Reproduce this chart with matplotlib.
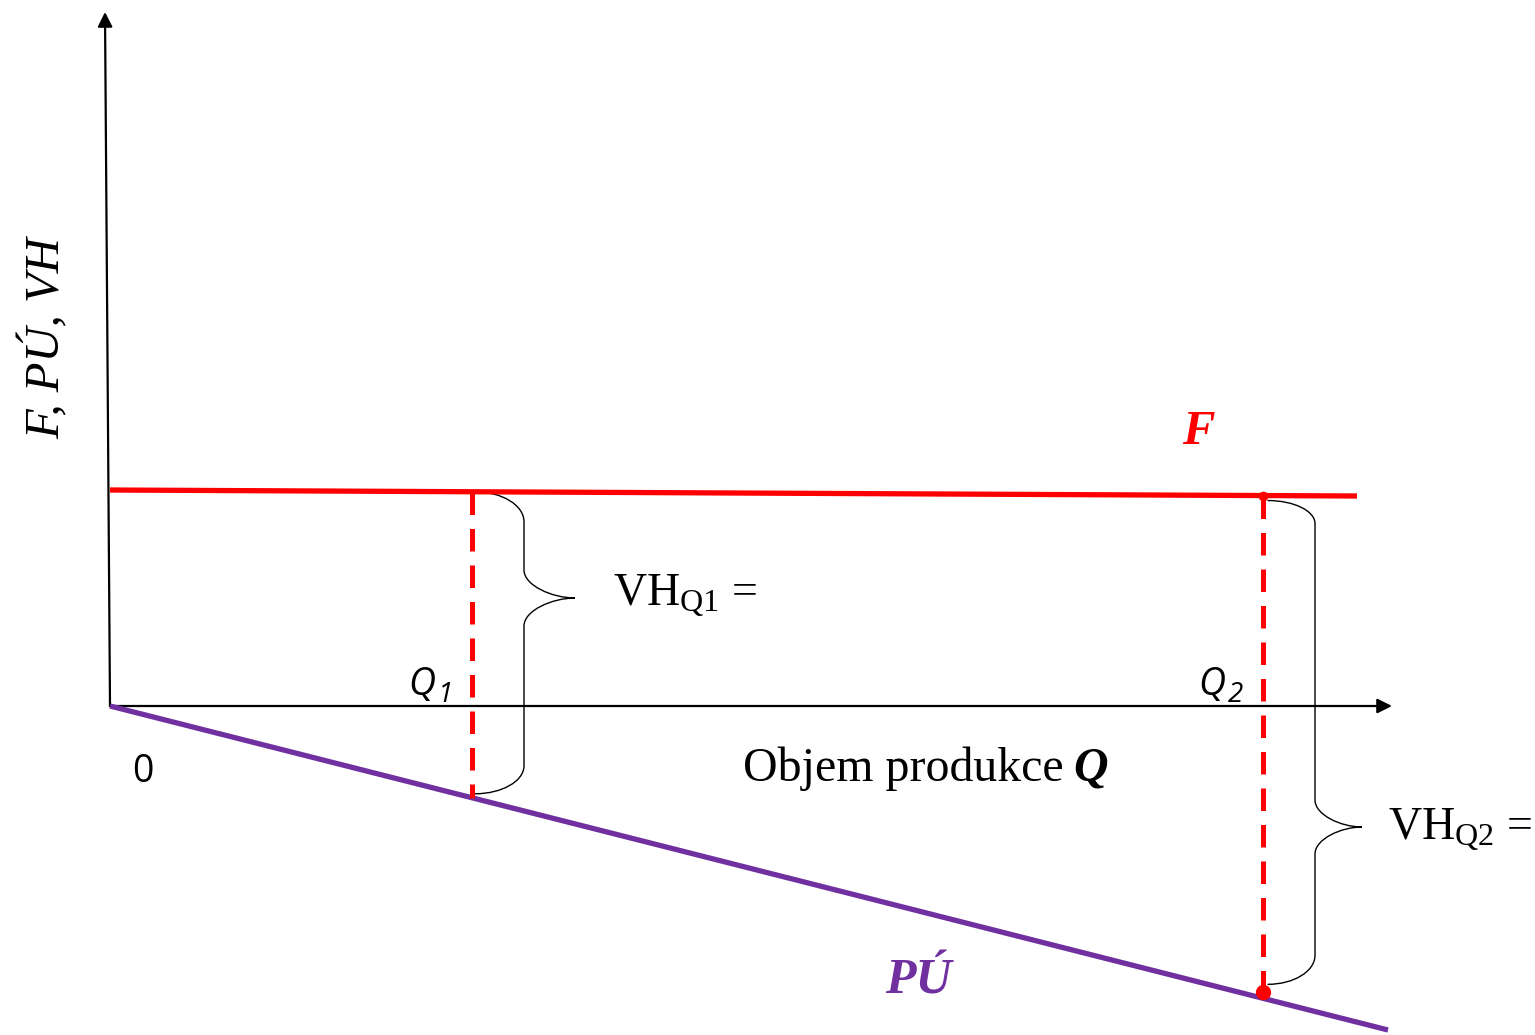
#!/usr/bin/env python
# -*- coding: utf-8 -*-

# Fixed costs F, loss PU and result VH against production volume Q

import numpy as np
import matplotlib as mpl
import matplotlib.pyplot as plt
from matplotlib.path import Path
from matplotlib.patches import PathPatch

# diagram data (1 unit ~ 100 px of the original picture)
f_q = [0.0, 12.47]
f_values = [2.16, 2.10]
pu_q = [0.0, 12.78]
pu_values = [0.0, -3.24]
q_marks = [3.62, 11.53]
q_subs = ['1', '2']
vh_subs = ['Q1', 'Q2']
x_axis_end = 12.82
y_axis_top = (-0.05, 6.94)

RED = '#FF0000'
PURPLE = '#7030A0'
SERIF = 'Liberation Serif'
SANS = 'Open Sans'


def f_at(q):
    return np.interp(q, f_q, f_values)


def pu_at(q):
    return np.interp(q, pu_q, pu_values)


def brace(ax, x0, yt, yb, xs, xt, ytip, rt, rm, rb):
    k = 0.55
    verts = [
        (x0, yt),
        (x0 + k * (xs - x0), yt), (xs, yt - (1 - k) * rt), (xs, yt - rt),
        (xs, ytip + rm),
        (xs, ytip + (1 - k) * rm), (xs + k * (xt - xs), ytip), (xt, ytip),
        (xs + k * (xt - xs), ytip), (xs, ytip - (1 - k) * rm), (xs, ytip - rm),
        (xs, yb + rb),
        (xs, yb + (1 - k) * rb), (x0 + k * (xs - x0), yb), (x0, yb),
    ]
    codes = [Path.MOVETO,
             Path.CURVE4, Path.CURVE4, Path.CURVE4,
             Path.LINETO,
             Path.CURVE4, Path.CURVE4, Path.CURVE4,
             Path.CURVE4, Path.CURVE4, Path.CURVE4,
             Path.LINETO,
             Path.CURVE4, Path.CURVE4, Path.CURVE4]
    ax.add_patch(PathPatch(Path(verts, codes), fill=False, lw=1.0,
                           edgecolor='black', capstyle='round'))


if __name__ == '__main__':
    mpl.rcParams['mathtext.fontset'] = 'custom'
    mpl.rcParams['mathtext.rm'] = SERIF
    mpl.rcParams['mathtext.it'] = SERIF + ':italic'

    fig = plt.figure(figsize=(15.35, 10.35), dpi=100)
    ax = fig.add_axes((0, 0, 1, 1))
    ax.set_xlim(-1.10, 14.25)
    ax.set_ylim(-3.29, 7.06)
    ax.axis('off')

    # axes as arrows
    arrow = dict(arrowstyle='-|>', lw=1.6, color='black', mutation_scale=22,
                 shrinkA=0, shrinkB=0)
    ax.annotate('', xy=(x_axis_end, 0), xytext=(0, 0), arrowprops=arrow)
    ax.annotate('', xy=y_axis_top, xytext=(0, 0), arrowprops=arrow)

    # F and PU lines
    ax.plot(f_q, f_values, color=RED, lw=3.8, solid_capstyle='butt', zorder=3)
    ax.plot(pu_q, pu_values, color=PURPLE, lw=3.8, solid_capstyle='butt', zorder=3)

    # dashed verticals at Q1, Q2
    for q in q_marks:
        ax.plot([q, q], [f_at(q), pu_at(q)], color=RED, lw=3.6,
                dashes=(4.5, 2.8), zorder=4)
    q2 = q_marks[1]
    ax.plot([q2], [f_at(q2)], 'o', color=RED, ms=6, zorder=5)
    ax.plot([q2], [pu_at(q2) + 0.06], 'o', color=RED, ms=10, zorder=5)

    # braces
    q1 = q_marks[0]
    brace(ax, q1 + 0.03, f_at(q1), pu_at(q1) + 0.04, q1 + 0.52, q1 + 1.03, 1.08,
          0.30, 0.28, 0.28)
    brace(ax, q2 + 0.05, f_at(q2) - 0.05, pu_at(q2) + 0.14, q2 + 0.52, q2 + 0.99, -1.21,
          0.23, 0.27, 0.29)

    # VH labels
    ax.text(5.03, 1.00, r'VH$_{\mathrm{%s}}$ =' % vh_subs[0], fontsize=33,
            family=SERIF, ha='left', va='baseline')
    ax.text(12.78, -1.34, r'VH$_{\mathrm{%s}}$ =' % vh_subs[1], fontsize=33,
            family=SERIF, ha='left', va='baseline')

    # Q1, Q2 labels
    for q, s, dx in zip(q_marks, q_subs, [-0.64, -0.65]):
        ax.text(q + dx, 0.11, 'Q', fontsize=27, family=SANS, style='italic',
                ha='left', va='baseline')
        ax.text(q + dx + 0.30, 0.04, s, fontsize=20, family=SANS, style='italic',
                ha='left', va='baseline')

    ax.text(0.33, -0.66, '0', fontsize=27, family=SANS, ha='center', va='center')

    ax.text(6.33, -0.75, 'Objem produkce', fontsize=34.5, family=SERIF,
            ha='left', va='baseline')
    ax.text(9.63, -0.75, 'Q', fontsize=34.5, family=SERIF, style='italic',
            weight='bold', ha='left', va='baseline')

    ax.text(10.72, 2.62, 'F', fontsize=35, family=SERIF, style='italic',
            weight='bold', color=RED, ha='left', va='baseline')
    ax.text(7.75, -2.87, 'PÚ', fontsize=36, family=SERIF, style='italic',
            weight='bold', color=PURPLE, ha='left', va='baseline')

    ax.text(-0.65, 3.68, 'F, PÚ, VH', fontsize=35, family=SERIF, style='italic',
            rotation=90, ha='center', va='center')

    plt.savefig('out.png', dpi=100)
